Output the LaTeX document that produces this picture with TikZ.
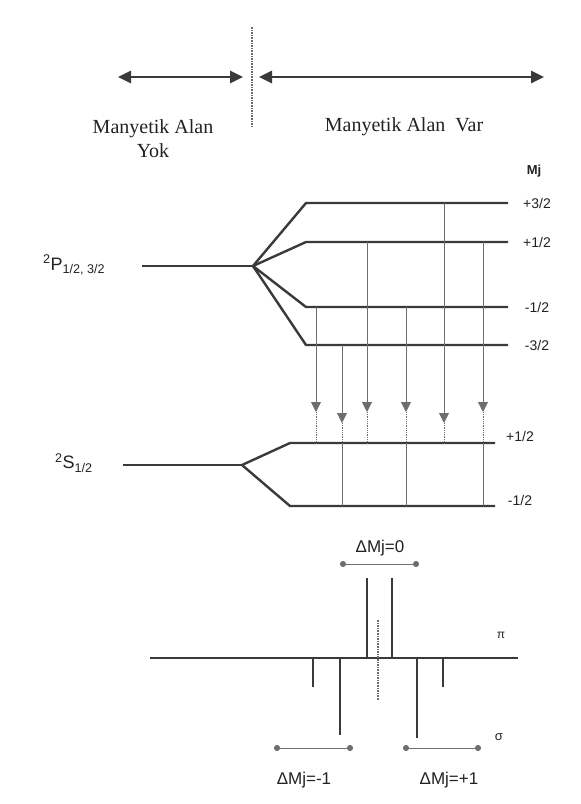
\documentclass[tikz,border=0pt]{standalone}
\usepackage{fontspec}
\setmainfont{Liberation Serif}
\setsansfont{Liberation Sans}
\usepackage{tikz}
\usetikzlibrary{arrows.meta,positioning}
\definecolor{lvlCol}{HTML}{3A3A3A}
\definecolor{trCol}{HTML}{6E6E6E}
\definecolor{txtCol}{HTML}{222222}
\tikzset{
  lvl/.style={draw=lvlCol, line width=2.4pt, line join=round},
  trans/.style={draw=trCol, line width=0.8pt},
  trtip/.style={-{Triangle[length=10pt,width=10pt]}},
  field/.style={{Triangle[length=13pt,width=12pt]}-{Triangle[length=13pt,width=12pt]},
        draw=lvlCol, line width=2.6pt},
  bar/.style={{Circle[length=6pt]}-{Circle[length=6pt]}, draw=trCol, line width=0.8pt},
  serlab/.style={font=\fontsize{20}{24}\selectfont, text=txtCol, align=center, inner sep=0pt},
  mjlab/.style={font=\sffamily\fontsize{14}{14}\selectfont, text=txtCol, inner sep=0pt},
  termlab/.style={font=\sffamily\fontsize{18}{18}\selectfont, text=txtCol, inner sep=0pt},
  dlab/.style={font=\sffamily\fontsize{17}{17}\selectfont, text=txtCol, inner sep=0pt},
}
\begin{document}
\begin{tikzpicture}[x=1pt,y=-1pt]
  \useasboundingbox[fill=white] (0,0) rectangle (581,804);
  % field / no field
  \coordinate (fa) at (118,77);  \coordinate (fb) at (243,77);
  \coordinate (fc) at (259,77);  \coordinate (fd) at (544,77);
  \coordinate (sepT) at (252,27); \coordinate (sepB) at (252,127);
  \draw[field] (fa) -- (fb);
  \draw[field] (fc) -- (fd);
  \draw[draw=trCol, line width=1.6pt, densely dotted] (sepT) -- (sepB);
  \node[serlab] (noB) at (153,139) {Manyetik Alan\\Yok};
  \node[serlab] (withB) at (404,127) {Manyetik Alan~~Var};
  \node[mjlab, font=\sffamily\bfseries\fontsize{13}{13}\selectfont] (mj) at (534,171) {Mj};
  % 2P term
  \node[termlab, anchor=west] (tP) at (43,265) {\textsuperscript{2}P\textsubscript{1/2, 3/2}};
  \coordinate (P0) at (142,266); \coordinate (Pb) at (253,266);
  \draw[lvl] (P0) -- (Pb);
  \foreach \nm/\y/\lab in {p3/203/{+3/2}, p1/242/{+1/2}, m1/307/{-1/2}, m3/345/{-3/2}} {
    \coordinate (\nm a) at (306,\y); \coordinate (\nm b) at (508,\y);
    \draw[lvl] (Pb) -- (\nm a) -- (\nm b);
    \node[mjlab] (\nm lab) at (537,\y) {\lab};
  }
  % 2S term
  \node[termlab, anchor=west] (tS) at (55,463) {\textsuperscript{2}S\textsubscript{1/2}};
  \coordinate (S0) at (123,465); \coordinate (Sb) at (242,465);
  \draw[lvl] (S0) -- (Sb);
  \foreach \nm/\y/\lab/\ly in {sp/443/{+1/2}/436, sm/506/{-1/2}/500} {
    \coordinate (\nm a) at (290,\y); \coordinate (\nm b) at (495,\y);
    \draw[lvl] (Sb) -- (\nm a) -- (\nm b);
    \node[mjlab] (\nm lab) at (520,\ly) {\lab};
  }
  % transitions
  \foreach \i/\x/\yp/\yt/\ys in {1/316/307/412/443, 2/342/345/423/506, 3/367/242/412/443,
                                 4/406/307/412/506, 5/444/203/423/443, 6/483/242/412/506} {
    \coordinate (t\i u) at (\x,\yp);
    \coordinate (t\i a) at (\x,\yt);
    \coordinate (t\i s) at (\x,443);
    \coordinate (t\i e) at (\x,\ys);
    \draw[trans, trtip] (t\i u) -- (t\i a);
    \draw[trans, densely dotted] (t\i a) -- (t\i s);
    \draw[trans] (t\i s) -- (t\i e);
  }
  % spectrum
  \coordinate (bl) at (150,658); \coordinate (br) at (518,658);
  \draw[lvl] (bl) -- (br);
  \foreach \i/\x/\yy in {pi1/367/578, pi2/392/578, s1/313/687, s2/340/735, s3/417/738, s4/443/687} {
    \coordinate (\i t) at (\x,658); \coordinate (\i e) at (\x,\yy);
    \draw[lvl] (\i t) -- (\i e);
  }
  \coordinate (cT) at (378,620); \coordinate (cB) at (378,700);
  \draw[draw=trCol, line width=1.6pt, densely dotted] (cT) -- (cB);
  \node[mjlab, font=\sffamily\fontsize{12}{12}\selectfont] (piLab) at (501,635) {π};
  \node[mjlab, font=\sffamily\fontsize{13}{13}\selectfont] (sigLab) at (499,737) {σ};
  % Delta Mj bars
  \coordinate (z0a) at (340,564); \coordinate (z0b) at (419,564);
  \coordinate (zma) at (274,748); \coordinate (zmb) at (353,748);
  \coordinate (zpa) at (403,748); \coordinate (zpb) at (481,748);
  \draw[bar] (z0a) -- (z0b);
  \draw[bar] (zma) -- (zmb);
  \draw[bar] (zpa) -- (zpb);
  \node[dlab] (d0) at (380,548) {ΔMj=0};
  \node[dlab] (dm) at (304,780) {ΔMj=-1};
  \node[dlab] (dp) at (449,780) {ΔMj=+1};
\end{tikzpicture}
\end{document}
